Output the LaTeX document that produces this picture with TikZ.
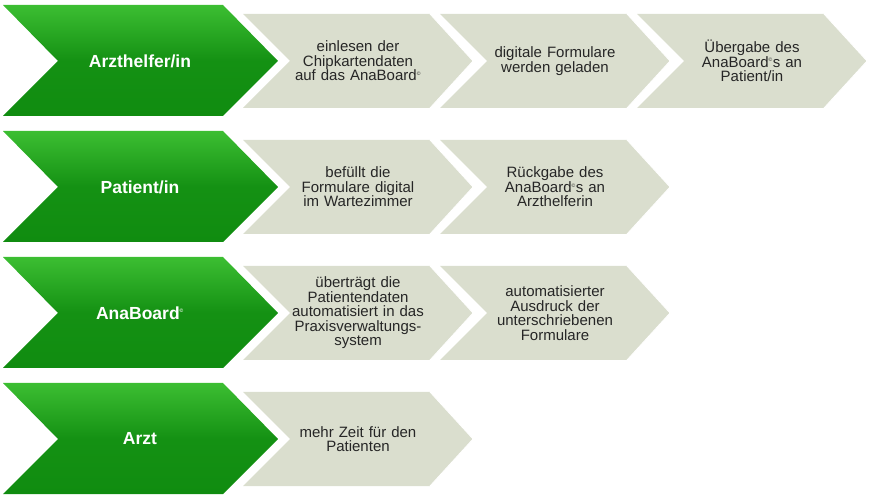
\documentclass[tikz,border=0pt]{standalone}
\usepackage{fontspec}
\setmainfont{Liberation Sans}
\begin{document}
\begin{tikzpicture}[x=1pt,y=-1pt,
  gtxt/.style={text=white,font=\bfseries\fontsize{17.5}{19}\selectfont,align=center},
  ytxt/.style={text=black!85,font=\fontsize{15}{14.5}\selectfont,align=center,text width=150pt}]
\useasboundingbox (0,0) rectangle (873,502);
\definecolor{gdark}{RGB}{16,140,16}
\definecolor{glight}{RGB}{60,190,50}
\definecolor{grayc}{RGB}{218,222,206}
\newcommand{\grayc}[2]{% x offset, y center
  \fill[grayc] (#1,#2-47) -- (#1+187,#2-47) -- (#1+230,#2) -- (#1+187,#2+47) -- (#1,#2+47) -- (#1+47,#2) -- cycle;
  \draw[white,line width=0.8pt] (#1+187,#2-47) -- (#1+230,#2) -- (#1+187,#2+47);}
\newcommand{\greenc}[1]{%
  \shade[top color=glight,bottom color=gdark,middle color=gdark!90!glight] (3,#1-56) -- (223,#1-56) -- (278,#1) -- (223,#1+55) -- (3,#1+55) -- (58,#1) -- cycle;}
% row 1
\grayc{637}{61}\grayc{440}{61}\grayc{243}{61}\greenc{61}
\node[gtxt] (r1) at (140,61) {Arzthelfer/in};
\node[ytxt] (a1) at (358,61) {einlesen der\\Chipkartendaten\\auf das AnaBoard\textsuperscript{\tiny\textcopyright}};
\node[ytxt] (a2) at (555,61) {digitale Formulare\\werden geladen};
\node[ytxt] (a3) at (752,61) {Übergabe des\\AnaBoard\textsuperscript{\tiny\textcopyright}s an\\Patient/in};
% row 2
\grayc{440}{187}\grayc{243}{187}\greenc{187}
\node[gtxt] (r2) at (140,187) {Patient/in};
\node[ytxt] (b1) at (358,187) {befüllt die\\Formulare digital\\im Wartezimmer};
\node[ytxt] (b2) at (555,187) {Rückgabe des\\AnaBoard\textsuperscript{\tiny\textcopyright}s an\\Arzthelferin};
% row 3
\grayc{440}{313}\grayc{243}{313}\greenc{313}
\node[gtxt] (r3) at (140,313) {AnaBoard\textsuperscript{\tiny\textcopyright}};
\node[ytxt] (c1) at (358,313) {überträgt die\\Patientendaten\\automatisiert in das\\Praxisverwaltungs-\\system};
\node[ytxt] (c2) at (555,313) {automatisierter\\Ausdruck der\\unterschriebenen\\Formulare};
% row 4
\grayc{243}{439}\greenc{439}
\node[gtxt] (r4) at (140,439) {Arzt};
\node[ytxt] (d1) at (358,439) {mehr Zeit für den\\Patienten};
\end{tikzpicture}
\end{document}
